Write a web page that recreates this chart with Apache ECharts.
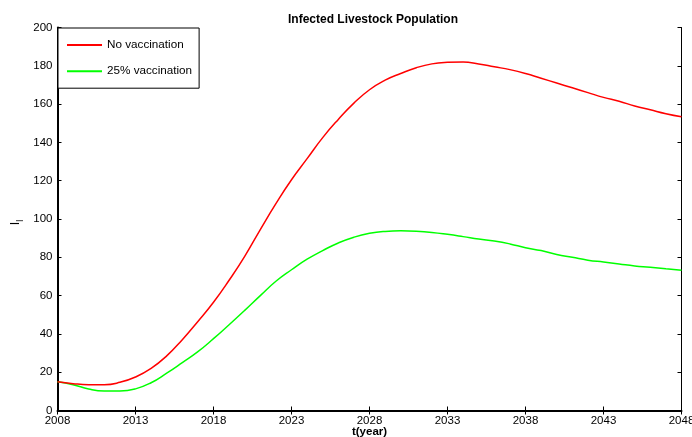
<!DOCTYPE html>
<html>
<head>
<meta charset="utf-8">
<script src="https://cdn.jsdelivr.net/npm/echarts@6/dist/echarts.min.js"></script>
<style>
html,body{margin:0;padding:0;background:#fff;}
#chart{width:692px;height:437px;}
</style>
</head>
<body>
<div id="chart"></div>
<script>
var years = [2008,2009,2010,2011,2012,2013,2014,2015,2016,2017,2018,2019,2020,2021,2022,2023,2024,2025,2026,2027,2028,2029,2030,2031,2032,2033,2034,2035,2036,2037,2038,2039,2040,2041,2042,2043,2044,2045,2046,2047,2048];
var noVaccination = [15,14,13.5,13.5,14.7,17.5,22,28.5,37,46.5,56.5,68,80.5,94.5,108,120.5,131.5,142.5,152,160.5,167.5,172.5,176,179,181,181.8,182,181,179.5,178,176,173.5,171,168.5,166,163.5,161.5,159,157,155,153.4];
var vaccination25 = [15,13.5,11.2,10.2,10.2,11.3,14.5,19.5,25,30.7,37.5,44.8,52.3,60,67.5,73.5,79,83.5,87.5,90.5,92.5,93.5,93.8,93.6,93,92,90.8,89.5,88.5,87,85,83.5,81.5,80,78.5,77.5,76.5,75.5,74.8,74,73.3];
var seriesNames = ['No vaccination','25% vaccination'];
var titleText = 'Infected Livestock Population';
var xName = 't(year)';

function pairs(vals){ return years.map(function(y,i){ return [y, vals[i]]; }); }

var font = 'Liberation Sans, Arial, Helvetica, sans-serif';
var chart = echarts.init(document.getElementById('chart'), null, {renderer:'canvas'});
var baseX = {type:'value', min:2008, max:2048, interval:5};
var baseY = {type:'value', min:0, max:200, interval:20};
chart.setOption({
  animation:false,
  backgroundColor:'#fff',
  textStyle:{fontFamily:font},
  title:{
    text:titleText, left:368, top:9, textAlign:'center',
    textStyle:{fontSize:12, fontWeight:'bold', color:'#000', fontFamily:font}
  },
  grid:{left:57.5, right:10.5, top:27.5, bottom:26.5, show:false, outerBoundsMode:'none', containLabel:false},
  legend:{
    left:58, top:28, orient:'vertical',
    padding:[11,7,11,9],
    borderColor:'#000', borderWidth:1, backgroundColor:'#fff',
    itemWidth:35, itemHeight:2, itemGap:14.2,
    icon:'rect',
    textStyle:{fontSize:11.7, color:'#000', fontFamily:font},
    data:seriesNames
  },
  xAxis:[
    Object.assign({}, baseX, {
      position:'bottom',
      name:xName, nameLocation:'middle', nameGap:15, nameMoveOverlap:false,
      nameTextStyle:{fontSize:11.5, fontWeight:'bold', color:'#000', fontFamily:font},
      axisLine:{lineStyle:{color:'#000', width:2}},
      axisTick:{inside:true, length:4, lineStyle:{color:'#000'}},
      axisLabel:{fontSize:11.5, color:'#000', margin:4, fontFamily:font, formatter:function(v){return String(v);}},
      splitLine:{show:false}
    }),
    Object.assign({}, baseX, {
      position:'top',
      axisLine:{lineStyle:{color:'#000', width:1}},
      axisTick:{inside:true, length:4, lineStyle:{color:'#000'}},
      axisLabel:{show:false},
      splitLine:{show:false}
    })
  ],
  yAxis:[
    Object.assign({}, baseY, {
      position:'left',
      name:'{a|I}{b|l}', nameLocation:'middle', nameGap:32, nameRotate:90, nameMoveOverlap:false,
      nameTextStyle:{padding:[0,7,0,0], rich:{
        a:{fontSize:12.5, color:'#000', fontFamily:font, lineHeight:16, verticalAlign:'top'},
        b:{fontSize:9, color:'#000', fontFamily:font, lineHeight:16, verticalAlign:'bottom'}
      }},
      axisLine:{lineStyle:{color:'#000', width:2}},
      axisTick:{inside:true, length:4, lineStyle:{color:'#000'}},
      axisLabel:{fontSize:11.5, color:'#000', margin:5, fontFamily:font},
      splitLine:{show:false}
    }),
    Object.assign({}, baseY, {
      position:'right',
      axisLine:{lineStyle:{color:'#000', width:1}},
      axisTick:{inside:true, length:4, lineStyle:{color:'#000'}},
      axisLabel:{show:false},
      splitLine:{show:false}
    })
  ],
  series:[
    {name:seriesNames[0], type:'line', data:pairs(noVaccination), smooth:true, showSymbol:false,
     lineStyle:{color:'#ff0000', width:1.5}, itemStyle:{color:'#ff0000'}, z:3},
    {name:seriesNames[1], type:'line', data:pairs(vaccination25), smooth:true, showSymbol:false,
     lineStyle:{color:'#00ff00', width:1.5}, itemStyle:{color:'#00ff00'}, z:2}
  ]
});
</script>
</body>
</html>
